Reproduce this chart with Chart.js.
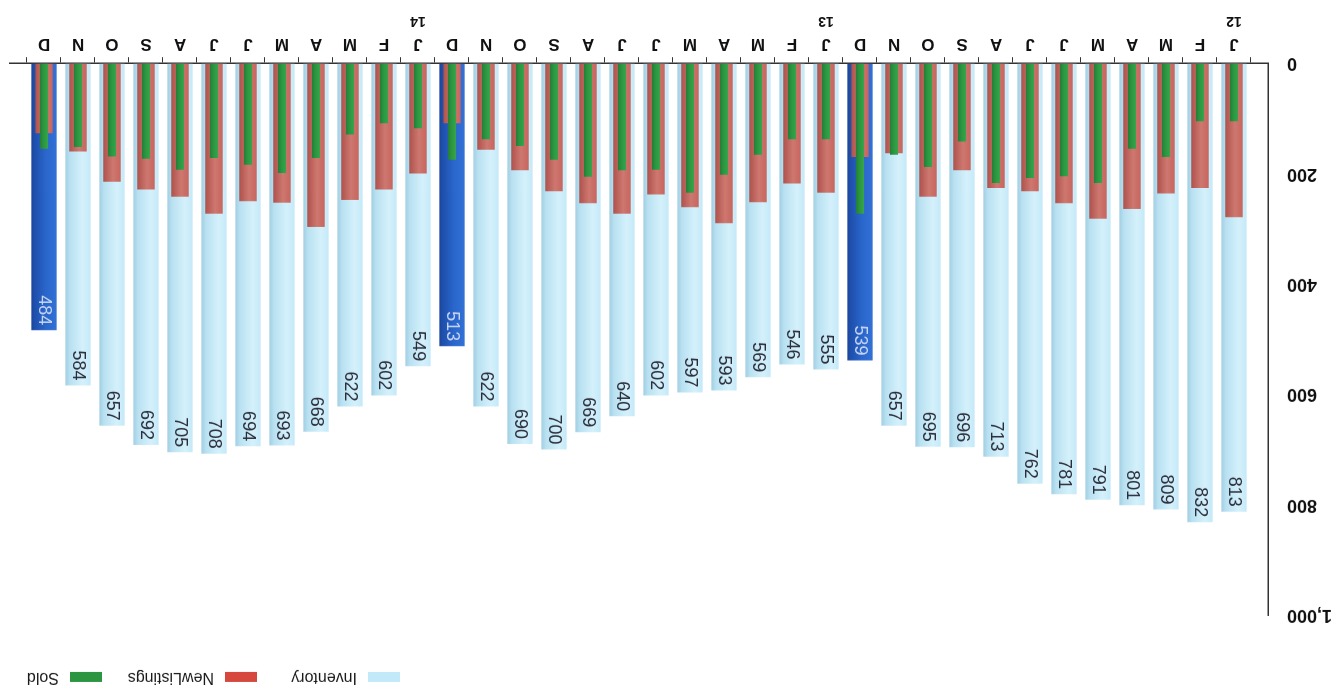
<!DOCTYPE html>
<html>
<head>
<meta charset="utf-8">
<script src="https://cdn.jsdelivr.net/npm/chart.js@4.4.1/dist/chart.umd.min.js"></script>
<style>
  html, body { margin: 0; padding: 0; background: #fff; overflow: hidden; }
  #wrap { position: absolute; left: 0; top: 0; width: 1337px; height: 685px;
          transform: rotate(180deg); transform-origin: 50% 50%; }
  canvas { display: block; }
</style>
</head>
<body>
<div id="wrap"><canvas id="chart" width="1337" height="685"></canvas></div>
<script>
// Monthly housing market figures, Jan 2012 – Dec 2014
const months = ['J', 'F', 'M', 'A', 'M', 'J', 'J', 'A', 'S', 'O', 'N', 'D'];
const years = ['12', '13', '14'];

const inventory = [
  813, 832, 809, 801, 791, 781, 762, 713, 696, 695, 657, 539,
  555, 546, 569, 593, 597, 602, 640, 669, 700, 690, 622, 513,
  549, 602, 622, 668, 693, 694, 708, 705, 692, 657, 584, 484
];
const newListings = [
  279, 226, 236, 264, 282, 254, 232, 226, 194, 242, 163, 170,
  235, 218, 252, 290, 261, 238, 273, 254, 232, 194, 157, 109,
  200, 229, 248, 297, 253, 250, 273, 242, 229, 215, 160, 127
];
const sold = [
  105, 105, 170, 155, 217, 205, 208, 217, 142, 188, 166, 273,
  138, 138, 166, 202, 235, 193, 194, 206, 175, 150, 138, 175,
  118, 109, 129, 172, 199, 184, 172, 193, 173, 169, 152, 155
];

const yTicks = [0, 200, 400, 600, 800, 1000];

const FONT = '"Liberation Sans", Arial, Helvetica, sans-serif';
const INV_PCT = 0.93, NEW_PCT = 0.64, SOLD_PCT = 0.30;

// horizontal cylinder-style shading for each bar
function shaded(stopsFor, pct, fallback) {
  return (c) => {
    if (c.type !== 'data') return fallback;
    const chart = c.chart;
    const xs = chart.scales && chart.scales.x;
    if (!xs) return fallback;
    const cx = xs.getPixelForValue(c.parsed.x);
    const step = xs.getPixelForValue(1) - xs.getPixelForValue(0);
    if (!isFinite(cx) || !isFinite(step)) return fallback;
    const w = step * pct;
    const g = chart.ctx.createLinearGradient(cx - w / 2, 0, cx + w / 2, 0);
    for (const [o, col] of stopsFor(c.dataIndex)) g.addColorStop(o, col);
    return g;
  };
}

const invStops = (i) => (i % 12 === 11)
  ? [[0, '#3574d8'], [0.45, '#2a66cc'], [0.8, '#1e4fab'], [1, '#16398a']]
  : [[0, '#bfe6f6'], [0.35, '#d4f1fc'], [0.75, '#b9e1f1'], [1, '#93c4da']];
const newStops = () => [[0, '#d4382e'], [0.12, '#c8665f'], [0.45, '#cd7870'], [0.85, '#b25650'], [1, '#843430']];
const soldStops = () => [[0, '#38a84c'], [0.5, '#2d9842'], [1, '#207834']];

const pts = (arr) => arr.map((v, i) => ({ x: i, y: v }));

// value labels written inside the top of each inventory bar
const valueLabels = {
  id: 'valueLabels',
  afterDatasetsDraw(chart) {
    const meta = chart.getDatasetMeta(0);
    const ctx = chart.ctx;
    ctx.save();
    ctx.font = '18px ' + FONT;
    ctx.textAlign = 'right';
    ctx.textBaseline = 'middle';
    meta.data.forEach((el, i) => {
      ctx.save();
      ctx.translate(el.x, el.y + 5);
      ctx.rotate(-Math.PI / 2);
      ctx.fillStyle = (i % 12 === 11) ? '#c8d6f2' : '#2b2d3a';
      ctx.fillText(String(inventory[i]), 0, 0);
      ctx.restore();
    });
    ctx.restore();
  }
};

// legend row in the top right corner
const legendColors = ['#c2e9f9', '#d6473d', '#2b9541'];
const legendBoxX = [937, 1080, 1235];
const topLegend = {
  id: 'topLegend',
  afterDraw(chart) {
    const ctx = chart.ctx;
    ctx.save();
    ctx.font = '16px ' + FONT;
    ctx.textBaseline = 'middle';
    ctx.textAlign = 'left';
    const boxW = 32, boxH = 10, gapText = 11, y = 8;
    chart.data.datasets.forEach((d, i) => {
      const bx = legendBoxX[i];
      ctx.fillStyle = legendColors[i];
      ctx.fillRect(bx, y - boxH / 2, boxW, boxH);
      ctx.fillStyle = '#1a1a1a';
      ctx.fillText(d.label, bx + boxW + gapText, y);
    });
    ctx.restore();
  }
};

new Chart(document.getElementById('chart'), {
  type: 'bar',
  data: {
    datasets: [
      {
        label: 'Inventory', data: pts(inventory), order: 3,
        grouped: false, barPercentage: INV_PCT,
        backgroundColor: shaded(invStops, INV_PCT, '#c2e9f9'), borderWidth: 0
      },
      {
        label: 'NewListings', data: pts(newListings), order: 2,
        grouped: false, barPercentage: NEW_PCT,
        backgroundColor: shaded(newStops, NEW_PCT, '#d6473d'), borderWidth: 0
      },
      {
        label: 'Sold', data: pts(sold), order: 1,
        grouped: false, barPercentage: SOLD_PCT,
        backgroundColor: shaded(soldStops, SOLD_PCT, '#2b9541'), borderWidth: 0
      }
    ]
  },
  options: {
    responsive: false,
    animation: false,
    devicePixelRatio: 1,
    layout: { padding: { top: 70, left: 5, right: 10, bottom: 10 } },
    plugins: { legend: { display: false }, tooltip: { enabled: false } },
    scales: {
      x: {
        type: 'linear', position: 'bottom', min: -1, max: 36, offset: false, weight: 0,
        ticks: {
          stepSize: 1, autoSkip: false, maxRotation: 0, minRotation: 0, padding: 3,
          color: '#111', font: { family: FONT, size: 17, weight: 'bold' },
          callback: (v) => (Number.isInteger(v) && v >= 0 && v < 36) ? months[v % 12] : ''
        },
        grid: { drawOnChartArea: false, drawTicks: true, tickLength: 6, color: '#333', lineWidth: 1 },
        border: { display: true, color: '#333', width: 1.5 }
      },
      x2: {
        type: 'linear', position: 'bottom', min: -1, max: 36, offset: false, weight: 1,
        ticks: {
          stepSize: 1, autoSkip: false, maxRotation: 0, minRotation: 0, padding: 2,
          color: '#111', font: { family: FONT, size: 14, weight: 'bold' },
          callback: (v) => (Number.isInteger(v) && v >= 0 && v < 36 && v % 12 === 0) ? years[v / 12] : ''
        },
        grid: { display: false, drawTicks: false },
        border: { display: false }
      },
      y: {
        type: 'linear', min: 0, max: 1000,
        afterBuildTicks: (s) => { s.ticks = yTicks.map((v) => ({ value: v })); },
        afterFit: (s) => { s.width = 64; },
        ticks: {
          padding: 19, color: '#111', font: { family: FONT, size: 18, weight: 'bold' },
          callback: (v) => v.toLocaleString('en-US')
        },
        grid: { drawOnChartArea: false, drawTicks: false },
        border: { display: true, color: '#333', width: 1.5 }
      }
    }
  },
  plugins: [valueLabels, topLegend]
});
</script>
</body>
</html>
